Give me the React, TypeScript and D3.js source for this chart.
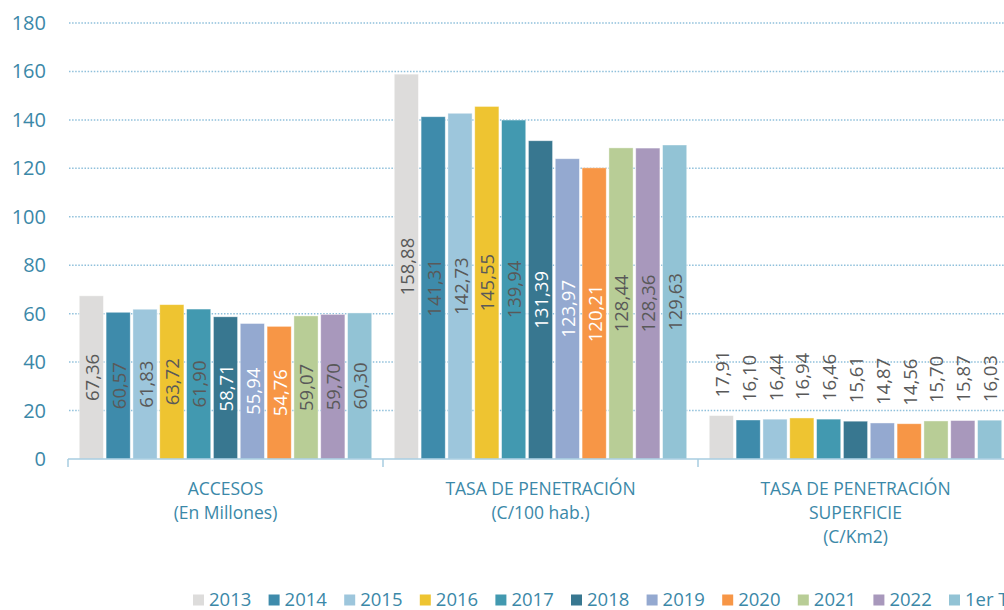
import React from 'react';
import * as d3 from 'd3';

// values
const categories = [
  ['ACCESOS', '(En Millones)'],
  ['TASA DE PENETRACIÓN', '(C/100 hab.)'],
  ['TASA DE PENETRACIÓN', 'SUPERFICIE', '(C/Km2)'],
];
const seriesNames = ['2013', '2014', '2015', '2016', '2017', '2018', '2019', '2020', '2021', '2022', '1er Trim. 2023'];
const accesos = [67.36, 60.57, 61.83, 63.72, 61.9, 58.71, 55.94, 54.76, 59.07, 59.7, 60.3];
const penetracion = [158.88, 141.31, 142.73, 145.55, 139.94, 131.39, 123.97, 120.21, 128.44, 128.36, 129.63];
const superficie = [17.91, 16.1, 16.44, 16.94, 16.46, 15.61, 14.87, 14.56, 15.7, 15.87, 16.03];
const yTicks = [0, 20, 40, 60, 80, 100, 120, 140, 160, 180];

const colors = ['#dddcdb', '#3e8bab', '#9dc6dc', '#eec431', '#4299b0', '#387790', '#94a9d0', '#f79646', '#b8cd96', '#a898bc', '#92c3d5'];
const whiteLabels = ['2018', '2019', '2020'];

const font = "'Open Sans', sans-serif";
const blue = '#3b88a8';

const App = () => {
  const values = [accesos, penetracion, superficie];
  const left = 68;
  const groupW = 315;
  const top = 23;
  const bottom = 459;

  const x0 = d3.scaleBand<number>()
    .domain(d3.range(categories.length))
    .range([left, left + groupW * categories.length]);
  const x1 = d3.scaleBand<string>()
    .domain(seriesNames)
    .range([0, groupW])
    .paddingInner(0.1)
    .paddingOuter(0.42);
  const y = d3.scaleLinear().domain([0, 180]).range([bottom, top]);
  const fmt = (v: number) => d3.format('.2f')(v).replace('.', ',');

  const legendX = d3.scaleLinear().domain([0, 1]).range([193, 268.6]);

  return (
    <div style={{ position: 'fixed', left: 0, top: 0, width: 1004, height: 610, overflow: 'hidden', background: '#fff' }}>
      <svg width={1004} height={610} style={{ display: 'block' }}>
        {yTicks.slice(1).map(t => (
          <line key={t} x1={left + 1} x2={1004} y1={y(t)} y2={y(t)}
            stroke="#8fc0db" strokeWidth={1.5} strokeDasharray="1.5,1.6" />
        ))}
        {yTicks.map(t => (
          <text key={t} x={46} y={y(t)} dy="0.35em" textAnchor="end"
            fontFamily={font} fontSize={20} fill={blue}>{t}</text>
        ))}

        {values.map((vals, gi) => (
          <g key={gi} transform={`translate(${x0(gi)},0)`}>
            {vals.map((v, i) => {
              const name = seriesNames[i];
              const bx = x1(name)!;
              const bw = x1.bandwidth();
              const cx = bx + bw / 2;
              const inside = gi < 2;
              const ly = inside ? (y(v) + y(0)) / 2 : y(v) - 18;
              const white = inside && whiteLabels.includes(name);
              return (
                <g key={name}>
                  <rect x={bx} y={y(v)} width={bw} height={y(0) - y(v)}
                    fill={colors[i]} stroke="#ffffff" strokeOpacity={0.5} strokeWidth={0.8} />
                  <text transform={`translate(${cx},${ly}) rotate(-90)`}
                    textAnchor={inside ? 'middle' : 'start'} dominantBaseline="central"
                    fontFamily={font} fontSize={18.5} fill={white ? '#ffffff' : '#595959'}>
                    {fmt(v)}
                  </text>
                </g>
              );
            })}
          </g>
        ))}

        <line x1={left} x2={1004} y1={bottom} y2={bottom} stroke="#a7cde0" strokeWidth={1.5} />
        {d3.range(categories.length + 1).map(i => (
          <line key={i} x1={left + i * groupW} x2={left + i * groupW} y1={bottom} y2={bottom + 8}
            stroke="#a7cde0" strokeWidth={1.5} />
        ))}

        {categories.map((lines, gi) => (
          <text key={gi} x={x0(gi)! + groupW / 2} y={489} textAnchor="middle"
            fontFamily={font} fontSize={17.5} fill={blue}>
            {lines.map((l, li) => (
              <tspan key={li} x={x0(gi)! + groupW / 2} y={489 + li * 24} dy="0.35em">{l}</tspan>
            ))}
          </text>
        ))}

        {seriesNames.map((name, i) => (
          <g key={name} transform={`translate(${legendX(i)},600)`}>
            <rect x={0} y={-5.5} width={11} height={11} fill={colors[i]} />
            <text x={16} y={0} dy="0.35em" fontFamily={font} fontSize={18.5} fill={blue}>{name}</text>
          </g>
        ))}
      </svg>
    </div>
  );
};

export default App;
